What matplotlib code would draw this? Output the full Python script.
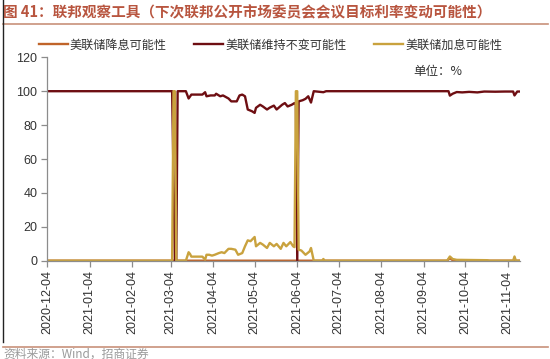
import matplotlib
matplotlib.use("Agg")
import matplotlib.pyplot as plt
import matplotlib.dates as mdates
from matplotlib.lines import Line2D
import pandas as pd

plt.rcParams['font.family'] = ['Liberation Sans', 'Noto Sans CJK SC', 'DejaVu Sans']

# ---------------- data ----------------
maint_dates = ['2020-12-04', '2021-03-05', '2021-03-07', '2021-03-08', '2021-03-09', '2021-03-15',
               '2021-03-17', '2021-03-19', '2021-03-27', '2021-03-29', '2021-03-30', '2021-04-02',
               '2021-04-05', '2021-04-06', '2021-04-09', '2021-04-11', '2021-04-15', '2021-04-17',
               '2021-04-21', '2021-04-23', '2021-04-25', '2021-04-27', '2021-04-29', '2021-05-02',
               '2021-05-04', '2021-05-05', '2021-05-08', '2021-05-10', '2021-05-13', '2021-05-15',
               '2021-05-18', '2021-05-20', '2021-05-24', '2021-05-26', '2021-05-28', '2021-05-31',
               '2021-06-02', '2021-06-03', '2021-06-04', '2021-06-05', '2021-06-08', '2021-06-10',
               '2021-06-12', '2021-06-14', '2021-06-16', '2021-06-23', '2021-06-25', '2021-09-22',
               '2021-09-23', '2021-09-25', '2021-09-28', '2021-10-02', '2021-10-07', '2021-10-13',
               '2021-10-18', '2021-10-26', '2021-11-02', '2021-11-08', '2021-11-09', '2021-11-11',
               '2021-11-13']
maint_vals = [100, 100, 0, 0, 100, 100,
              95.7, 98, 98, 99.4, 97, 97.5,
              97.5, 98.5, 97, 97.5, 95.7, 94,
              94, 97.5, 98, 97, 89.2, 88.2,
              87.2, 90.2, 92, 91, 89.2, 90.3,
              91.5, 89.2, 92, 93, 91, 92,
              93, 92, 0, 94, 94.7, 95.5,
              97, 93.3, 100, 99.4, 100, 100,
              97.4, 98.5, 99.5, 99.3, 99.6, 99.3,
              99.8, 99.7, 99.8, 99.8, 97.5, 99.8,
              99.8]

hike_dates = ['2020-12-04', '2021-03-05', '2021-03-06', '2021-03-07', '2021-03-08', '2021-03-15',
              '2021-03-17', '2021-03-18', '2021-03-19', '2021-03-27', '2021-03-29', '2021-03-30',
              '2021-04-01', '2021-04-03', '2021-04-05', '2021-04-08', '2021-04-10', '2021-04-12',
              '2021-04-15', '2021-04-17', '2021-04-20', '2021-04-22', '2021-04-25', '2021-04-27',
              '2021-04-29', '2021-05-01', '2021-05-04', '2021-05-05', '2021-05-08', '2021-05-10',
              '2021-05-13', '2021-05-15', '2021-05-18', '2021-05-20', '2021-05-23', '2021-05-25',
              '2021-05-27', '2021-05-30', '2021-06-01', '2021-06-02', '2021-06-03', '2021-06-04',
              '2021-06-05', '2021-06-07', '2021-06-10', '2021-06-13', '2021-06-14', '2021-06-16',
              '2021-06-22', '2021-06-23', '2021-06-24', '2021-09-21', '2021-09-23', '2021-09-25',
              '2021-09-28', '2021-10-20', '2021-10-22', '2021-11-08', '2021-11-09', '2021-11-10',
              '2021-11-13']
hike_vals = [0, 0, 100, 100, 0, 0,
             5, 4, 2.4, 2.4, 0.6, 3.5,
             3.5, 3, 3.5, 4.5, 5, 4.5,
             7, 7, 6.5, 3.5, 4.5, 8.5,
             12, 11.5, 14, 8.5, 10.5, 9.5,
             7.5, 10.5, 8.5, 9.9, 7, 10.5,
             8.5, 11, 8.5, 8, 100, 100,
             6.5, 6, 3.5, 5.5, 7.5, 0,
             0, 1, 0, 0, 2.5, 1,
             0.5, 0.3, 0, 0, 2.5, 0,
             0]

cut_dates = ['2020-12-04', '2021-09-21', '2021-09-23', '2021-09-25', '2021-09-27', '2021-11-13']
cut_vals = [0, 0, 1.5, 0.3, 0, 0]

tick_labels = ['2020-12-04', '2021-01-04', '2021-02-04', '2021-03-04', '2021-04-04', '2021-05-04',
               '2021-06-04', '2021-07-04', '2021-08-04', '2021-09-04', '2021-10-04', '2021-11-04']
y_ticks = [0, 20, 40, 60, 80, 100, 120]

series_names = ['美联储降息可能性', '美联储维持不变可能性', '美联储加息可能性']
colors = ['#C0642A', '#6E0E12', '#C9A23E']

# ---------------- figure ----------------
fig = plt.figure(figsize=(5.5, 3.59), dpi=100)
ax = fig.add_axes([47/550, 98.3/359, (520-47)/550, (301.7-98.3)/359])

l1, = ax.plot(pd.to_datetime(cut_dates), cut_vals, color=colors[0], lw=1.7, label=series_names[0])
l2, = ax.plot(pd.to_datetime(maint_dates), maint_vals, color=colors[1], lw=1.7, label=series_names[1])
l3, = ax.plot(pd.to_datetime(hike_dates), hike_vals, color=colors[2], lw=1.7, label=series_names[2])

ax.set_xlim(pd.Timestamp('2020-12-04'), pd.Timestamp('2021-11-13'))
ax.set_ylim(0, 120)
ax.set_yticks(y_ticks)
ax.set_xticks(pd.to_datetime(tick_labels))
ax.set_xticklabels(tick_labels, rotation=90)

for s in ['top', 'right']:
    ax.spines[s].set_visible(False)
for s in ['left', 'bottom']:
    ax.spines[s].set_color('#8c8c8c')
    ax.spines[s].set_linewidth(0.9)
ax.tick_params(axis='both', colors='#8c8c8c', length=4, width=0.9, labelsize=9, labelcolor='#333333')
ax.tick_params(axis='x', pad=3)
ax.tick_params(axis='y', pad=3)

leg = fig.legend(handles=[l1, l2, l3], loc='center left', bbox_to_anchor=(28/550, 314/359), ncol=3,
                 frameon=False, fontsize=8.7, handlelength=2.4, handletextpad=0.15,
                 columnspacing=2.3, prop={'family': ['Noto Sans CJK SC'], 'size': 8.7})
for t in leg.get_texts():
    t.set_color('#333333')

fig.text(413/550, 1 - 71/359, '单位：%', fontsize=9, color='#333333',
         family=['Noto Sans CJK SC', 'DejaVu Sans'], va='center', ha='left')

# title & decorations
fig.text(3/550, 1 - 12/359, '图 41：联邦观察工具（下次联邦公开市场委员会会议目标利率变动可能性）',
         fontsize=10.5, fontweight='bold', color='#B8553F',
         family=['Noto Sans CJK SC', 'DejaVu Sans'], va='center', ha='left')
fig.add_artist(Line2D([3/550, 548/550], [1 - 24/359, 1 - 24/359], color='#C8917A', lw=1.2))
fig.add_artist(Line2D([3/550, 548/550], [1 - 346.5/359, 1 - 346.5/359], color='#C8917A', lw=1.2))
fig.text(3/550, 1 - 354/359, '资料来源：Wind，招商证券', fontsize=8.5, color='#9a9a9a',
         family=['Noto Sans CJK SC', 'DejaVu Sans'], va='center', ha='left')
fig.add_artist(Line2D([2.5/550, 2.5/550], [1 - 342/359, 1.0], color='#222222', lw=1.0))

fig.savefig('out.png', dpi=100)
